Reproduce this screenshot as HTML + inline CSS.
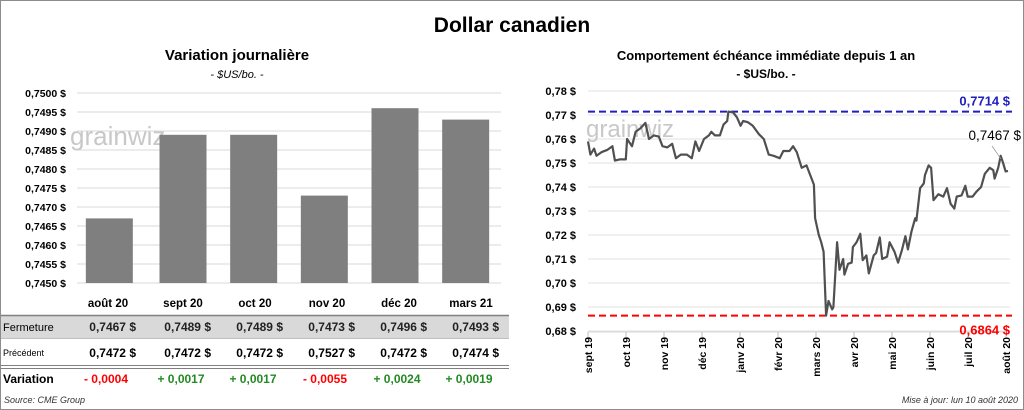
<!DOCTYPE html>
<html><head><meta charset="utf-8"><style>
body{margin:0;background:#fff;font-family:"Liberation Sans",sans-serif;}
#root{position:relative;width:1024px;height:410px;overflow:hidden;}
svg text{font-family:"Liberation Sans",sans-serif;}
</style></head><body>
<div id="root">
<svg id="svg" width="1024" height="410">
<rect x="0.5" y="0.5" width="1023" height="409" fill="#fff" stroke="#8c8c8c"/>
<text x="512" y="32" text-anchor="middle" font-size="21" font-weight="bold" fill="#000">Dollar canadien</text>
<text x="237" y="60" text-anchor="middle" font-size="15" font-weight="bold">Variation  journalière</text>
<text x="237" y="78" text-anchor="middle" font-size="11" font-style="italic">- $US/bo. -</text>
<text x="766" y="60" text-anchor="middle" font-size="13" font-weight="bold">Comportement échéance immédiate depuis 1 an</text>
<text x="766" y="78" text-anchor="middle" font-size="12" font-weight="bold">- $US/bo. -</text>
<g id="left"></g>
<g id="right"></g>
<g id="table"></g>
<text x="4" y="403" font-size="9" font-style="italic" fill="#333">Source: CME Group</text>
<text x="1018" y="403" text-anchor="end" font-size="9" font-style="italic" fill="#333">Mise à jour: lun 10 août 2020</text>
</svg>
</div>
<script>
const barCategories=["août 20","sept 20","oct 20","nov 20","déc 20","mars 21"];
const barValues=[0.7467,0.7489,0.7489,0.7473,0.7496,0.7493];
const prevValues=[0.7472,0.7472,0.7472,0.7527,0.7472,0.7474];
const variationValues=[-0.0004,0.0017,0.0017,-0.0055,0.0024,0.0019];
const leftTicks=[0.7450,0.7455,0.7460,0.7465,0.7470,0.7475,0.7480,0.7485,0.7490,0.7495,0.7500];
const lineDays=[0,2,5,7,11,16,20,22,26,31,32,36,39,43,47,50,54,58,61,65,69,72,76,81,85,88,91,95,99,101,104,108,111,114,115,119,122,125,127,131,135,140,144,148,152,157,160,165,168,171,175,179,182,185,186,189,191,193,195,197,200,201,204,206,209,210,213,216,217,220,223,225,228,230,234,236,239,241,245,247,251,254,257,260,262,265,268,269,272,275,276,279,281,283,287,291,294,297,300,302,306,309,311,315,318,322,325,329,332,333,336,338,340,342,344];
const lineValues=[0.759,0.7535,0.756,0.753,0.7545,0.7555,0.757,0.751,0.7515,0.7515,0.760,0.757,0.763,0.7645,0.7667,0.760,0.7615,0.761,0.757,0.7565,0.758,0.752,0.7535,0.7535,0.752,0.759,0.755,0.760,0.7615,0.763,0.7615,0.7615,0.766,0.7675,0.7714,0.771,0.769,0.7655,0.7675,0.767,0.7655,0.762,0.760,0.7535,0.753,0.752,0.755,0.755,0.757,0.7545,0.748,0.749,0.745,0.741,0.727,0.720,0.717,0.713,0.6864,0.6925,0.689,0.690,0.717,0.7055,0.710,0.7035,0.708,0.7085,0.715,0.717,0.7205,0.7095,0.7115,0.704,0.7115,0.7125,0.719,0.710,0.711,0.717,0.713,0.7085,0.7135,0.7195,0.714,0.7215,0.727,0.726,0.7395,0.7415,0.745,0.749,0.748,0.7345,0.737,0.736,0.7395,0.733,0.731,0.736,0.7365,0.7405,0.736,0.736,0.738,0.740,0.7455,0.748,0.747,0.7435,0.748,0.753,0.750,0.7465,0.7467];
const rightTicks=[0.68,0.69,0.70,0.71,0.72,0.73,0.74,0.75,0.76,0.77,0.78];
const monthLabels=["sept 19","oct 19","nov 19","déc 19","janv 20","févr 20","mars 20","avr 20","mai 20","juin 20","juil 20","août 20"];
const highValue=0.7714, lowValue=0.6864, lastValue=0.7467;

const NS="http://www.w3.org/2000/svg";
function mk(tag,attrs,parent,txt){const e=document.createElementNS(NS,tag);for(const k in attrs)e.setAttribute(k,attrs[k]);if(txt!==undefined)e.textContent=txt;parent.appendChild(e);return e;}
const fmt4=v=>v.toFixed(4).replace('.',',');
const fmt2=v=>v.toFixed(2).replace('.',',');

// left bar chart
const L=document.getElementById('left');
const lx0=77,lx1=501,ly0=283,ly1=93;
const ly=v=>ly0+(v-0.745)/(0.750-0.745)*(ly1-ly0);
const cw=(lx1-lx0)/barCategories.length;
leftTicks.forEach(t=>{
  const g=mk('line',{x1:lx0,x2:lx1,y1:ly(t),y2:ly(t),stroke:'#d9d9d9','stroke-width':1},L);
  
  
  const tx=mk('text',{x:66,y:ly(t)+4,'text-anchor':'end','font-size':10.5,'font-weight':'bold'},L,fmt4(t)+' $');
  
  
});
mk('text',{x:70,y:145,'font-size':26,fill:'#c8c8c8'},L,'grainwiz');
barValues.forEach((v,i)=>{
  const cx=lx0+cw*(i+0.5)+(i===0?-3:0);
  const r=mk('rect',{x:cx-23.5,y:ly(v),width:47,height:ly0-ly(v),fill:'#7f7f7f'},L);
  
  
});

// table
const T=document.getElementById('table');
mk('rect',{x:1,y:316,width:508,height:22,fill:'#d9d9d9'},T);
mk('line',{x1:1,x2:509,y1:315.5,y2:315.5,stroke:'#808080','stroke-width':1.5},T);
mk('line',{x1:1,x2:509,y1:338.5,y2:338.5,stroke:'#bfbfbf','stroke-width':1},T);
mk('line',{x1:1,x2:509,y1:365.5,y2:365.5,stroke:'#808080','stroke-width':1},T);
mk('line',{x1:1,x2:509,y1:368.5,y2:368.5,stroke:'#808080','stroke-width':1},T);
const lbl=(t,y,fs,fw,n)=>{const e=mk('text',{x:3,y:y,'font-size':fs,'font-weight':fw},T,t);};
lbl('Fermeture',331,11,'normal','row-label-fermeture');
lbl('Précédent',356,9,'normal','row-label-precedent');
lbl('Variation',383,12,'bold','row-label-variation');
const colX=[105,180,252,324,396,468];
barCategories.forEach((c,i)=>{
  const cx=colX[i]-1;
  const h=mk('text',{x:cx+4,y:307,'text-anchor':'middle','font-size':11.5,'font-weight':'bold'},T,c);
  
  
  const f=mk('text',{x:cx+32,y:331,'text-anchor':'end','font-size':12,'font-weight':'bold',fill:'#222','xml:space':'preserve'},T,fmt4(barValues[i])+'  $');
  
  
  const p=mk('text',{x:cx+32,y:357,'text-anchor':'end','font-size':12,'font-weight':'bold','xml:space':'preserve'},T,fmt4(prevValues[i])+'  $');
  
  
  const d=variationValues[i];
  const s=(d<0?'- ':'+ ')+fmt4(Math.abs(d));
  const vv=mk('text',{x:cx+2,y:383,'text-anchor':'middle','font-size':12,'font-weight':'bold',fill:d<0?'#ff0000':'#228b22'},T,s);
  
  
});

// right line chart
const R=document.getElementById('right');
const rx0=588,rx1=1008,ry0=331,ry1=91,dayMax=344;
const ry=v=>ry0+(v-0.68)/(0.78-0.68)*(ry1-ry0);
const rxd=d=>rx0+d/dayMax*(rx1-rx0);
rightTicks.forEach(t=>{
  const g=mk('line',{x1:rx0,x2:1010,y1:ry(t),y2:ry(t),stroke:'#e0e0e0','stroke-width':1},R);
  
  
  const tx=mk('text',{x:576,y:ry(t)+4,'text-anchor':'end','font-size':11,'font-weight':'bold'},R,fmt2(t)+' $');
  
  
});
mk('line',{x1:rx0,x2:1010,y1:ry0+1,y2:ry0+1,stroke:'#d9d9d9'},R);
const mw=38;
monthLabels.forEach((m,i)=>{
  const x=rx0+i*mw;
  mk('line',{x1:x,x2:x,y1:ry0+1,y2:ry0+6,stroke:'#bfbfbf'},R);
  const t=mk('text',{x:0,y:0,transform:`translate(${x+4},${ry0+6}) rotate(-90)`,'text-anchor':'end','font-size':10.5,'font-weight':'bold'},R,m);
  
  
});
mk('text',{x:586,y:137,'font-size':24,fill:'#c8c8c8'},R,'grainwiz');
const hl=mk('line',{x1:rx0,x2:1012,y1:ry(highValue),y2:ry(highValue),stroke:'#1f1fbf','stroke-width':2,'stroke-dasharray':'7,4'},R);


const ll=mk('line',{x1:rx0,x2:1012,y1:ry(lowValue),y2:ry(lowValue),stroke:'#ff0000','stroke-width':2,'stroke-dasharray':'7,4'},R);


const ht=mk('text',{x:1010,y:ry(highValue)-6,'text-anchor':'end','font-size':13,'font-weight':'bold',fill:'#1f1fbf'},R,fmt4(highValue)+' $');


const lt=mk('text',{x:1010,y:ry(lowValue)+19,'text-anchor':'end','font-size':13,'font-weight':'bold',fill:'#ff0000'},R,fmt4(lowValue)+' $');


const pts=lineValues.map((v,i)=>rxd(lineDays[i]).toFixed(1)+','+ry(v).toFixed(1)).join(' ');
const pl=mk('polyline',{points:pts,fill:'none',stroke:'#505050','stroke-width':2.2,'stroke-linejoin':'round'},R);


mk('line',{x1:992,y1:146,x2:1001,y2:ry(lastValue)-12,stroke:'#999','stroke-width':0.8},R);
const lst=mk('text',{x:1021,y:140,'text-anchor':'end','font-size':13.5,fill:'#000'},R,fmt4(lastValue)+' $');


</script>
</body></html>
